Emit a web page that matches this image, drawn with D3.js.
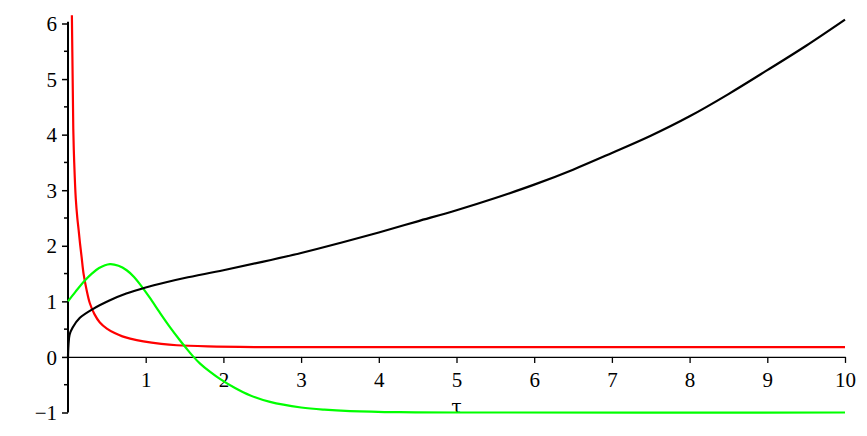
<!DOCTYPE html>
<html><head><meta charset="utf-8">
<script src="https://cdn.jsdelivr.net/npm/d3@7"></script>
<style>html,body{margin:0;padding:0;background:#fff;}svg{display:block;}
text{font-family:"Liberation Serif","Times New Roman",Times,serif;}</style>
</head><body>
<script>
const xTicks = [1,2,3,4,5,6,7,8,9,10];
const yTicks = [-1,0,1,2,3,4,5,6];
const yMinor = [-0.5,0.5,1.5,2.5,3.5,4.5,5.5];
const axisLabel = "τ";

const blackTau = [0,0.005,0.02,0.06,0.15,0.33,0.54,0.75,1,1.25,1.5,2,2.5,3,3.5,4,4.5,5,5.5,6,6.5,7,7.5,8,8.5,9,9.5,10];
const blackVal = [0,0.2,0.4,0.53,0.7,0.87,1.02,1.14,1.25,1.34,1.42,1.56,1.71,1.87,2.05,2.24,2.44,2.64,2.86,3.1,3.37,3.67,3.98,4.33,4.73,5.16,5.6,6.07];

const redTau = [0.05,0.06,0.068,0.08,0.1,0.12,0.137,0.154,0.175,0.2,0.24,0.28,0.34,0.41,0.5,0.6,0.7,0.8,0.97,1.2,1.4,1.8,2.4,3,5,10];
const redVal = [6.15,5.0,4.1,3.5,2.85,2.5,2.28,2.05,1.8,1.5,1.2,0.97,0.77,0.62,0.51,0.43,0.37,0.33,0.28,0.235,0.21,0.19,0.178,0.175,0.175,0.175];

const greenTau = [0,0.1,0.22,0.3,0.4,0.54,0.65,0.755,0.85,0.93,1.05,1.18,1.3,1.44,1.52,1.61,1.7,1.83,1.96,2.15,2.34,2.6,3,3.3,3.63,4.27,5,10];
const greenVal = [1,1.18,1.38,1.49,1.6,1.67,1.64,1.56,1.44,1.3,1.07,0.8,0.56,0.3,0.16,0.01,-0.12,-0.27,-0.4,-0.56,-0.69,-0.81,-0.91,-0.95,-0.975,-0.995,-1,-1];

const W = 867, H = 436;
const svg = d3.select("body").append("svg").attr("width", W).attr("height", H);
const x = d3.scaleLinear().domain([0,10]).range([68,845]);
const y = d3.scaleLinear().domain([-1,6]).range([412.5,23.5]);
const font = '"Liberation Serif","Times New Roman",Times,serif';

// x axis
const xa = svg.append("g").attr("transform", `translate(0,${y(0)})`)
  .call(d3.axisBottom(x).tickValues(xTicks).tickSize(6).tickSizeOuter(0).tickFormat(d3.format("d")));
xa.attr("font-family", null).attr("font-size", null);
xa.select(".domain").attr("stroke","#000").attr("stroke-width",1.3);
xa.selectAll(".tick line").attr("stroke","#000").attr("stroke-width",1.3);
xa.selectAll(".tick text").style("font-family",font).style("font-size","21px").attr("fill","#000")
  .attr("dy",null).attr("y",30);

// y axis
const ya = svg.append("g").attr("transform", `translate(${x(0)},0)`)
  .call(d3.axisLeft(y).tickValues(yTicks).tickSize(6).tickSizeOuter(0).tickFormat(d => d < 0 ? "\u2212" + Math.abs(d) : d));
ya.attr("font-family", null).attr("font-size", null);
ya.select(".domain").attr("stroke","#000").attr("stroke-width",2).attr("d", `M0,${y(-1)}V${y(6.03)}`);
ya.selectAll(".tick line").attr("stroke","#000").attr("stroke-width",1.5);
ya.selectAll(".tick text").style("font-family",font).style("font-size","21px").attr("fill","#000")
  .attr("x",-11).attr("dy","0.34em");
svg.append("g").attr("transform", `translate(${x(0)},0)`)
  .selectAll("line").data(yMinor).join("line")
  .attr("x1",-4).attr("x2",0).attr("y1",d=>y(d)).attr("y2",d=>y(d))
  .attr("stroke","#000").attr("stroke-width",1.5);

svg.append("text").attr("x", x(5)).attr("y", 413).attr("text-anchor","middle")
  .style("font-family",'"DejaVu Serif",serif').style("font-size","19px").text(axisLabel);

const smooth = d3.line().x(d=>x(d[0])).y(d=>y(d[1])).curve(d3.curveCatmullRom.alpha(0.5));
function draw(t, v, color){
  svg.append("path").datum(t.map((d,i)=>[d,v[i]])).attr("d", smooth)
    .attr("fill","none").attr("stroke",color).attr("stroke-width",2.2);
}
draw(redTau, redVal, "#ff0000");
draw(greenTau, greenVal, "#00ff00");
draw(blackTau, blackVal, "#000000");
</script>
</body></html>
